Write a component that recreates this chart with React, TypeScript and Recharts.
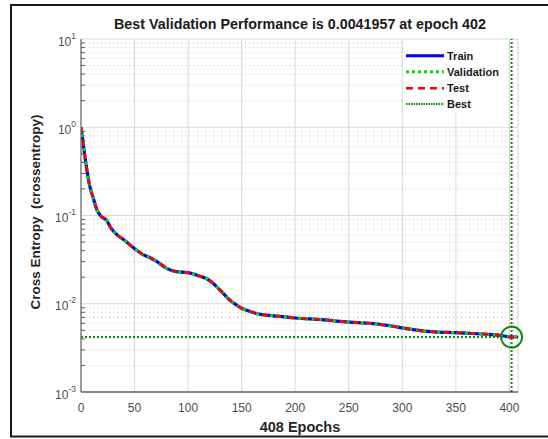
import React from "react";
import {
  LineChart,
  Line,
  XAxis,
  YAxis,
  CartesianGrid,
  ReferenceLine,
  ReferenceDot,
} from "recharts";

const epochs = [0, 2, 5, 8, 12, 15, 18, 24, 28, 34, 40, 49, 58, 65, 71, 80, 89, 100, 111, 118, 123, 128, 133, 139, 145, 150, 154, 160, 167, 180, 200, 225, 250, 270, 281, 290, 297, 310, 330, 350, 365, 380, 390, 402, 408];
const trainPerf = [1.0, 0.66, 0.36, 0.22, 0.15, 0.115, 0.1, 0.088, 0.072, 0.06, 0.053, 0.043, 0.036, 0.033, 0.03, 0.0252, 0.0231, 0.0225, 0.0205, 0.019, 0.0172, 0.015, 0.013, 0.011, 0.0097, 0.0089, 0.0085, 0.008, 0.0076, 0.0073, 0.0069, 0.0066, 0.0062, 0.006, 0.0058, 0.0056, 0.0054, 0.0051, 0.0048, 0.0047, 0.0046, 0.0045, 0.0044, 0.0042, 0.0042];
const valPerf = [1.0, 0.66, 0.36, 0.22, 0.15, 0.115, 0.1, 0.088, 0.072, 0.06, 0.053, 0.043, 0.036, 0.033, 0.03, 0.0252, 0.0231, 0.0225, 0.0205, 0.019, 0.0172, 0.015, 0.013, 0.011, 0.0097, 0.0089, 0.0085, 0.008, 0.0076, 0.0073, 0.0069, 0.0066, 0.0062, 0.006, 0.0058, 0.0056, 0.0054, 0.0051, 0.0048, 0.0047, 0.0046, 0.0045, 0.0044, 0.0042, 0.0042];
const testPerf = [1.0, 0.66, 0.36, 0.22, 0.15, 0.115, 0.1, 0.088, 0.072, 0.06, 0.053, 0.043, 0.036, 0.033, 0.03, 0.0252, 0.0231, 0.0225, 0.0205, 0.019, 0.0172, 0.015, 0.013, 0.011, 0.0097, 0.0089, 0.0085, 0.008, 0.0076, 0.0073, 0.0069, 0.0066, 0.0062, 0.006, 0.0058, 0.0056, 0.0054, 0.0051, 0.0048, 0.0047, 0.0046, 0.0045, 0.0044, 0.0042, 0.0042];

const bestEpoch = 402;
const bestPerf = 0.0041957;
const totalEpochs = 408;

const xTicks = [0, 50, 100, 150, 200, 250, 300, 350, 400];
const yTicks = [0.001, 0.01, 0.1, 1, 10];
const yExponents = ["-3", "-2", "-1", "0", "1"];
const minorMultipliers = [2, 3, 4, 5, 6, 7, 8, 9];

const titleText = "Best Validation Performance is 0.0041957 at epoch 402";
const xLabel = "408 Epochs";
const yLabel = "Cross Entropy  (crossentropy)";
const legendNames = ["Train", "Validation", "Test", "Best"];

const data = epochs.map((e, i) => ({
  epoch: e,
  train: trainPerf[i],
  val: valPerf[i],
  test: testPerf[i],
}));

const minorValues: number[] = [];
[0.001, 0.01, 0.1, 1].forEach((d) =>
  minorMultipliers.forEach((m) => minorValues.push(+(d * m).toPrecision(3)))
);

const FONT = "'Liberation Sans', Arial, Helvetica, sans-serif";
const TICK_COLOR = "#4d4d4d";
const BEST_GREEN = "#0f8a0f";

const XTick = (props: any) => {
  const { x, y, payload } = props;
  return (
    <text x={x} y={y + 19.5} textAnchor="middle" fontSize={12} fill={TICK_COLOR} fontFamily={FONT}>
      {payload.value}
    </text>
  );
};

const YTick = (props: any) => {
  const { x, y, payload } = props;
  const idx = yTicks.indexOf(payload.value);
  const exp = idx >= 0 ? yExponents[idx] : "";
  return (
    <text x={x - 5} y={y + 6.5} textAnchor="end" fontSize={12} fill={TICK_COLOR} fontFamily={FONT}>
      <tspan>10</tspan>
      <tspan dy={-7} fontSize={8.5}>{exp}</tspan>
    </text>
  );
};

export default function App() {
  const legendRows = [
    { name: legendNames[0], stroke: "#0000ff", width: 3, dash: undefined as string | undefined },
    { name: legendNames[1], stroke: "#00e000", width: 3, dash: "3 3" },
    { name: legendNames[2], stroke: "#ff0000", width: 2.5, dash: "7 5" },
    { name: legendNames[3], stroke: BEST_GREEN, width: 2, dash: "1.5 1" },
  ];
  const legendY = [55.7, 71.7, 88.3, 104];

  return (
    <div style={{ position: "absolute", left: 0, top: 0, width: 548, height: 439, background: "#fff" }}>
      <LineChart
        width={548}
        height={439}
        data={data}
        margin={{ top: 39, right: 30, bottom: 0, left: 0 }}
      >
        <CartesianGrid stroke="#d9d9d9" strokeWidth={1} />
        {minorValues.map((v) => (
          <ReferenceLine
            key={"m" + v}
            y={v}
            stroke="#c6c6c6"
            strokeDasharray="1 3"
            strokeWidth={1}
            ifOverflow="hidden"
          />
        ))}
        {minorValues.map((v) => (
          <ReferenceLine
            key={"mt" + v}
            segment={[{ x: 0, y: v }, { x: 3.5, y: v }]}
            stroke="#555"
            strokeWidth={1}
          />
        ))}
        <XAxis
          dataKey="epoch"
          type="number"
          domain={[0, totalEpochs]}
          ticks={xTicks}
          allowDataOverflow
          height={47}
          tickSize={0}
          tickMargin={0}
          tickLine={false}
          axisLine={{ stroke: "#262626", strokeWidth: 1.2 }}
          tick={<XTick />}
        />
        <YAxis
          type="number"
          scale="log"
          domain={[0.001, 10]}
          ticks={yTicks}
          allowDataOverflow
          width={81}
          tickSize={0}
          tickMargin={0}
          tickLine={false}
          axisLine={{ stroke: "#6a6a6a", strokeWidth: 1.2 }}
          tick={<YTick />}
        />
        <ReferenceLine
          y={bestPerf}
          stroke={BEST_GREEN}
          strokeWidth={2}
          strokeDasharray="2 2"
        />
        <ReferenceLine
          x={bestEpoch}
          stroke={BEST_GREEN}
          strokeWidth={2}
          strokeDasharray="2 2"
        />
        <Line
          type="monotone"
          dataKey="train"
          stroke="#0000ff"
          strokeWidth={3.2}
          dot={false}
          isAnimationActive={false}
        />
        <Line
          type="monotone"
          dataKey="val"
          stroke="#00e000"
          strokeWidth={3.2}
          strokeDasharray="3 4"
          dot={false}
          isAnimationActive={false}
        />
        <Line
          type="monotone"
          dataKey="test"
          stroke="#ff0000"
          strokeWidth={2.6}
          strokeDasharray="6 7"
          dot={false}
          isAnimationActive={false}
        />
        <ReferenceDot
          x={bestEpoch}
          y={bestPerf}
          r={10.5}
          fill="none"
          stroke={BEST_GREEN}
          strokeWidth={2}
        />
      </LineChart>
      <svg
        width={548}
        height={439}
        style={{ position: "absolute", left: 0, top: 0, pointerEvents: "none" }}
      >
        <rect x={11} y={5} width={545} height={431.5} fill="none" stroke="#1a1a1a" strokeWidth={2} />
        <text x={300} y={29} textAnchor="middle" fontSize={14.3} fontWeight="bold" fill="#1a1a1a" fontFamily={FONT}>
          {titleText}
        </text>
        <text x={300} y={432} textAnchor="middle" fontSize={14.5} fontWeight="bold" fill="#262626" fontFamily={FONT}>
          {xLabel}
        </text>
        <text
          x={0}
          y={0}
          transform="translate(40,212) rotate(-90)"
          textAnchor="middle"
          fontSize={13.5}
          fontWeight="bold"
          fill="#262626"
          fontFamily={FONT}
          style={{ whiteSpace: "pre" }}
        >
          {yLabel}
        </text>
        <rect x={403} y={41} width={104} height={72} fill="#fff" />
        {legendRows.map((r, i) => (
          <g key={r.name}>
            <line
              x1={406}
              x2={444}
              y1={legendY[i]}
              y2={legendY[i]}
              stroke={r.stroke}
              strokeWidth={r.width}
              strokeDasharray={r.dash}
            />
            <text x={447} y={legendY[i] + 4} fontSize={11} fontWeight="bold" fill="#1a1a1a" fontFamily={FONT}>
              {r.name}
            </text>
          </g>
        ))}
      </svg>
    </div>
  );
}
